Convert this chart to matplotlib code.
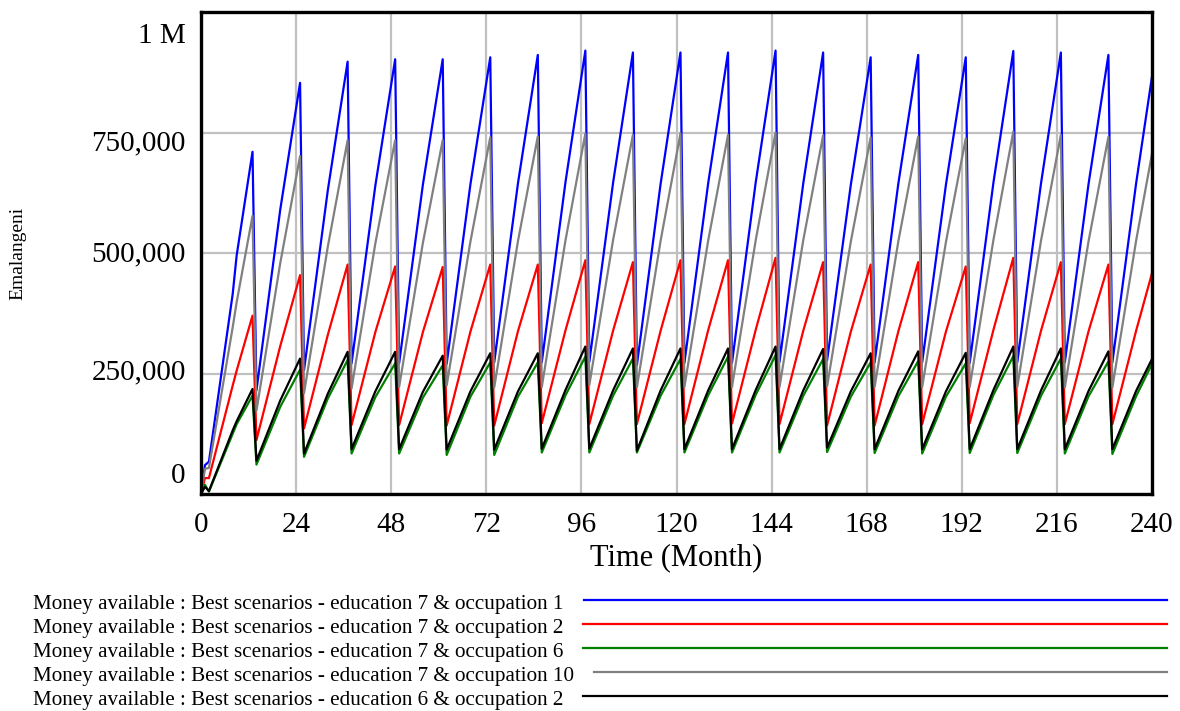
import matplotlib
matplotlib.use("Agg")
import matplotlib.pyplot as plt
from matplotlib.lines import Line2D

plt.rcParams["font.family"] = ["Liberation Serif", "DejaVu Serif"]

# ── Data (thousands of Emalangeni) ─────────────────────────────
# start of run, then one row per 12-month cycle: trough, middle, peak
months = [0, 1, 2, 8, 9, 13]
for k in range(1, 20):
    months += [12 * k + 2, 12 * k + 8, min(12 * k + 13, 240)]

edu7_occ1 = [0, 60, 67, 415, 495, 710,
             215, 590, 853,
             257, 630, 897,
             271, 640, 902,
             271, 642, 902,
             270, 643, 906,
             273, 645, 911,
             273, 648, 920,
             274, 646, 916,
             267, 644, 916,
             272, 645, 916,
             272, 647, 920,
             274, 645, 916,
             277, 642, 906,
             273, 645, 911,
             273, 642, 906,
             272, 647, 919,
             273, 645, 916,
             273, 644, 911,
             273, 645, 866]

edu7_occ2 = [0, 33, 33, 225, 256, 370,
             112, 307, 454,
             136, 330, 476,
             143, 336, 472,
             143, 336, 471,
             142, 337, 476,
             142, 338, 476,
             147, 340, 485,
             145, 339, 481,
             145, 339, 485,
             145, 340, 485,
             146, 341, 490,
             145, 339, 481,
             142, 337, 476,
             142, 338, 481,
             145, 337, 472,
             147, 341, 490,
             145, 339, 481,
             145, 338, 476,
             145, 339, 458]

edu7_occ6 = [0, 19, 5, 125, 145, 204,
             61, 181, 258,
             77, 198, 278,
             84, 201, 271,
             84, 200, 267,
             81, 202, 273,
             81, 202, 273,
             86, 205, 285,
             86, 204, 281,
             86, 204, 280,
             86, 205, 285,
             86, 206, 288,
             86, 204, 280,
             87, 202, 273,
             85, 203, 276,
             84, 202, 271,
             85, 206, 286,
             85, 204, 281,
             84, 203, 275,
             83, 203, 270]

edu7_occ10 = [0, 52, 54, 346, 398, 577,
              173, 479, 701,
              209, 513, 734,
              219, 520, 734,
              222, 521, 734,
              225, 524, 740,
              221, 525, 742,
              222, 527, 748,
              226, 527, 745,
              221, 526, 748,
              222, 526, 745,
              222, 527, 750,
              222, 527, 744,
              223, 524, 740,
              222, 525, 742,
              222, 523, 738,
              222, 528, 752,
              222, 526, 745,
              221, 525, 741,
              221, 526, 706]

edu6_occ2 = [0, 15, 6, 132, 151, 218,
             69, 194, 281,
             84, 208, 295,
             93, 213, 295,
             93, 212, 287,
             92, 213, 292,
             92, 213, 292,
             94, 216, 306,
             94, 215, 302,
             90, 215, 302,
             93, 215, 302,
             93, 216, 306,
             93, 215, 301,
             96, 213, 292,
             93, 214, 296,
             93, 213, 293,
             93, 216, 306,
             93, 215, 302,
             93, 214, 296,
             93, 214, 280]

labels = [
    "Money available : Best scenarios - education 7 & occupation 1",
    "Money available : Best scenarios - education 7 & occupation 2",
    "Money available : Best scenarios - education 7 & occupation 6",
    "Money available : Best scenarios - education 7 & occupation 10",
    "Money available : Best scenarios - education 6 & occupation 2",
]
series = [edu7_occ1, edu7_occ2, edu7_occ6, edu7_occ10, edu6_occ2]
colors = ["#0000ff", "#ff0000", "#008000", "#808080", "#000000"]

x_ticks = list(range(0, 241, 24))
y_ticks = [0, 250000, 500000, 750000, 1000000]
y_tick_labels = ["0", "250,000", "500,000", "750,000", "1 M"]
y_label_shift = [18, 1, -1, -11, -24]   # vertical nudge in px, Vensim-style

# ── Figure ─────────────────────────────────────────────────────
W, H = 1180, 711
fig = plt.figure(figsize=(W / 100, H / 100), dpi=100)
ax = fig.add_axes([201 / W, 1 - 494 / H, 951 / W, 482 / H])

for vals, col in zip(series, colors):
    ax.plot(months, [v * 1000 for v in vals], color=col, linewidth=1.6, zorder=3)

ax.set_xlim(0, 240)
ax.set_ylim(0, 1000000)
ax.set_xticks(x_ticks)
ax.set_yticks(y_ticks)
ax.set_yticklabels([])
ax.tick_params(axis="both", length=0, labelsize=21)
ax.tick_params(axis="x", pad=13)

for yv, lab, dy in zip(y_ticks, y_tick_labels, y_label_shift):
    ax.annotate(lab, xy=(0, yv), xycoords=("axes fraction", "data"),
                xytext=(-11, dy * 0.72), textcoords="offset points",
                ha="right", va="center", fontsize=21, annotation_clip=False)

ax.grid(True, color="#c0c0c0", linewidth=1.6, zorder=1)
for sp in ax.spines.values():
    sp.set_linewidth(2.4)
    sp.set_color("black")
    sp.set_zorder(5)

ax.set_xlabel("Time (Month)", fontsize=22, labelpad=4)
fig.text(18 / W, 1 - 253 / H, "Emalangeni", rotation=90, fontsize=14,
         ha="center", va="center")

# ── Legend rows below the plot ────────────────────────────────
fig.canvas.draw()
renderer = fig.canvas.get_renderer()
row_y = [602, 626, 650, 674, 698]
for lab, col, yy in zip(labels, colors, row_y):
    t = fig.text(33 / W, 1 - (yy + 2) / H, lab, fontsize=15.2, ha="left", va="center")
    ext = t.get_window_extent(renderer)
    x0 = ext.x1 + 20
    fig.add_artist(Line2D([x0 / W, 1167 / W], [1 - (yy - 2) / H] * 2,
                          color=col, linewidth=1.6, transform=fig.transFigure))

fig.savefig("out.png", dpi=100)
